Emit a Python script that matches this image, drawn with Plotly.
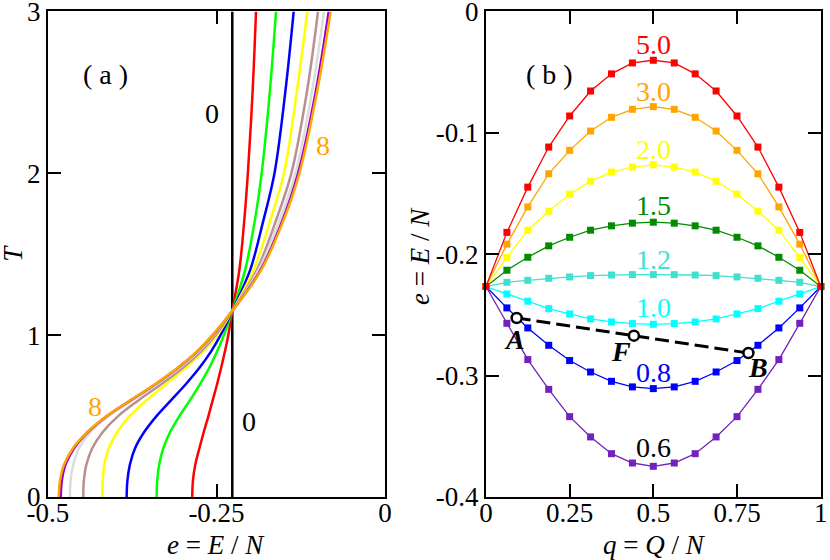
import plotly.graph_objects as go

# ---- panel (a): e = E/N against T for the nine curves ----
temp_a = [0, 0.1, 0.2, 0.3, 0.4, 0.5, 0.6, 0.7, 0.8, 0.9, 1.0, 1.15, 1.4, 1.7, 2.0, 2.5, 3.0]

e_red = [-0.2860, -0.2850, -0.2815, -0.2755, -0.2690, -0.2620, -0.2555, -0.2490, -0.2430,
         -0.2375, -0.2325, -0.2266, -0.2162, -0.2090, -0.2035, -0.1965, -0.1914]
e_green = [-0.3388, -0.3380, -0.3350, -0.3290, -0.3190, -0.3050, -0.2890, -0.2740, -0.2605,
           -0.2490, -0.2390, -0.2266, -0.2077, -0.1935, -0.1830, -0.1710, -0.1617]
e_blue = [-0.3833, -0.3822, -0.3785, -0.3710, -0.3575, -0.3390, -0.3170, -0.2950, -0.2750,
          -0.2580, -0.2440, -0.2266, -0.2003, -0.1810, -0.1640, -0.1480, -0.1355]
e_yellow = [-0.4194, -0.4189, -0.4165, -0.4100, -0.3975, -0.3790, -0.3530, -0.3240, -0.2955,
            -0.2700, -0.2490, -0.2266, -0.1954, -0.1710, -0.1500, -0.1310, -0.1153]
e_brown = [-0.4476, -0.4468, -0.4430, -0.4345, -0.4190, -0.3960, -0.3650, -0.3310, -0.2995,
           -0.2730, -0.2515, -0.2266, -0.1904, -0.1625, -0.1390, -0.1160, -0.0994]
e_grey = [-0.4674, -0.4665, -0.4625, -0.4540, -0.4370, -0.4100, -0.3740, -0.3370, -0.3040,
          -0.2765, -0.2540, -0.2266, -0.1880, -0.1575, -0.1330, -0.1085, -0.0905]
e_violet = [-0.4810, -0.4795, -0.4740, -0.4615, -0.4410, -0.4125, -0.3765, -0.3395, -0.3065,
            -0.2785, -0.2555, -0.2266, -0.1850, -0.1530, -0.1290, -0.1030, -0.0835]
e_orange = [-0.4840, -0.4822, -0.4762, -0.4632, -0.4420, -0.4130, -0.3770, -0.3400, -0.3070,
            -0.2790, -0.2560, -0.2266, -0.1840, -0.1515, -0.1270, -0.1010, -0.0806]
e_zero = -0.2266  # the "0" curve is a vertical line

curves_a = [
    (e_red, "#ff0000"), (e_green, "#00ff00"), (e_blue, "#0000ff"), (e_yellow, "#ffff00"),
    (e_brown, "#bc8f8f"), (e_grey, "#dcdcdc"), (e_violet, "#9400d3"), (e_orange, "#ffa500"),
]

# ---- panel (b): e against q for several temperatures ----
q_b = [0, 0.0625, 0.125, 0.1875, 0.25, 0.3125, 0.375, 0.4375, 0.5,
       0.5625, 0.625, 0.6875, 0.75, 0.8125, 0.875, 0.9375, 1]

e_t06 = [-0.2266, -0.2569, -0.2868, -0.3113, -0.3338, -0.3505, -0.3643, -0.3720, -0.3747,
         -0.3720, -0.3643, -0.3505, -0.3338, -0.3113, -0.2868, -0.2569, -0.2266]
e_t08 = [-0.2266, -0.2442, -0.2607, -0.2750, -0.2876, -0.2970, -0.3047, -0.3093, -0.3107,
         -0.3093, -0.3047, -0.2970, -0.2876, -0.2750, -0.2607, -0.2442, -0.2266]
e_t10 = [-0.2266, -0.2327, -0.2387, -0.2448, -0.2492, -0.2533, -0.2558, -0.2571, -0.2577,
         -0.2571, -0.2558, -0.2533, -0.2492, -0.2448, -0.2387, -0.2327, -0.2266]
e_t12 = [-0.2266, -0.2231, -0.2215, -0.2198, -0.2187, -0.2176, -0.2171, -0.2168, -0.2168,
         -0.2168, -0.2171, -0.2176, -0.2187, -0.2198, -0.2215, -0.2231, -0.2266]
e_t15 = [-0.2266, -0.2132, -0.2025, -0.1931, -0.1860, -0.1802, -0.1766, -0.1744, -0.1736,
         -0.1744, -0.1766, -0.1802, -0.1860, -0.1931, -0.2025, -0.2132, -0.2266]
e_t20 = [-0.2266, -0.2028, -0.1802, -0.1645, -0.1505, -0.1398, -0.1323, -0.1282, -0.1263,
         -0.1282, -0.1323, -0.1398, -0.1505, -0.1645, -0.1802, -0.2028, -0.2266]
e_t30 = [-0.2266, -0.1917, -0.1610, -0.1337, -0.1144, -0.0985, -0.0872, -0.0806, -0.0784,
         -0.0806, -0.0872, -0.0985, -0.1144, -0.1337, -0.1610, -0.1917, -0.2266]
e_t50 = [-0.2266, -0.1820, -0.1447, -0.1117, -0.0861, -0.0655, -0.0514, -0.0424, -0.0402,
         -0.0424, -0.0514, -0.0655, -0.0861, -0.1117, -0.1447, -0.1820, -0.2266]

curves_b = [
    (e_t06, "#7221bc"), (e_t08, "#0000ff"), (e_t10, "#00ffff"), (e_t12, "#40e0d0"),
    (e_t15, "#008b00"), (e_t20, "#ffff00"), (e_t30, "#ffa500"), (e_t50, "#ff0000"),
]

# tie line A - F - B
tie_q = [0.0917, 0.442, 0.784]
tie_e = [-0.2525, -0.2671, -0.2814]
tie_names = ["A", "F", "B"]

FONT = "Times New Roman, Liberation Serif, DejaVu Serif, serif"

fig = go.Figure()

fig.add_trace(go.Scatter(x=[e_zero, e_zero], y=[0, 3], mode="lines",
                         line=dict(color="black", width=2.5), xaxis="x", yaxis="y"))
for e_vals, col in curves_a:
    fig.add_trace(go.Scatter(x=e_vals, y=temp_a, mode="lines",
                             line=dict(color=col, width=2.5, shape="spline", smoothing=1),
                             xaxis="x", yaxis="y"))

for e_vals, col in curves_b:
    fig.add_trace(go.Scatter(x=q_b, y=e_vals, mode="lines+markers", cliponaxis=False,
                             line=dict(color=col, width=1.3),
                             marker=dict(symbol="square", size=7, color=col),
                             xaxis="x2", yaxis="y2"))

fig.add_trace(go.Scatter(x=tie_q, y=tie_e, mode="lines+markers",
                         line=dict(color="black", width=3, dash="14px,6px"),
                         marker=dict(symbol="circle", size=10, color="white",
                                     line=dict(color="black", width=2.5)),
                         xaxis="x2", yaxis="y2"))

axis_common = dict(showline=True, linecolor="black", linewidth=2, mirror="ticks",
                   ticks="inside", ticklen=13, tickwidth=1.5, tickcolor="black",
                   showgrid=False, zeroline=False, automargin=False,
                   ticklabeloverflow="allow",
                   tickfont=dict(family=FONT, size=27, color="black"))

fig.update_layout(
    width=830, height=560,
    margin=dict(l=0, r=0, t=0, b=0),
    paper_bgcolor="white", plot_bgcolor="white",
    showlegend=False,
    font=dict(family=FONT),
    xaxis=dict(domain=[0.0578, 0.4639], range=[-0.5, 0], ticklabelstandoff=-9,
               tickvals=[-0.5, -0.25, 0], ticktext=["-0.5", "-0.25", "0"], **axis_common),
    yaxis=dict(domain=[0.1125, 0.9795], range=[0, 3],
               tickvals=[0, 1, 2, 3], ticktext=["0", "1", "2", "3"], **axis_common),
    xaxis2=dict(domain=[0.5855, 0.9888], range=[0, 1], anchor="y2", ticklabelstandoff=-9,
                tickvals=[0, 0.25, 0.5, 0.75, 1], ticktext=["0", "0.25", "0.5", "0.75", "1"],
                **axis_common),
    yaxis2=dict(domain=[0.1125, 0.9795], range=[-0.4, 0], anchor="x2",
                tickvals=[-0.4, -0.3, -0.2, -0.1, 0],
                ticktext=["-0.4", "-0.3", "-0.2", "-0.1", "0"], **axis_common),
)

notes = []


def note(text, x, y, ref, size=28, color="black", **kw):
    notes.append(dict(text=text, x=x, y=y, xref=ref[0], yref=ref[1], showarrow=False,
                      xanchor="center", yanchor="middle",
                      font=dict(family=FONT, size=size, color=color), **kw))


# panel (a) labels
note("( a )", -0.414, 2.61, ("x", "y"))
note("0", -0.257, 2.37, ("x", "y"))
note("0", -0.2013, 0.465, ("x", "y"))
note("8", -0.0915, 2.175, ("x", "y"), color="#ffa500")
note("8", -0.430, 0.558, ("x", "y"), color="#ffa500")

# panel (b) labels
note("( b )", 0.191, -0.0519, ("x2", "y2"))
temp_labels = ["5.0", "3.0", "2.0", "1.5", "1.2", "1.0", "0.8", "0.6"]
temp_label_e = [-0.0272, -0.066, -0.1138, -0.160, -0.2045, -0.244, -0.2976, -0.3594]
temp_label_col = ["#ff0000", "#ffa500", "#ffff00", "#008b00", "#40e0d0", "#00ffff", "#0000ff", "black"]
for txt, ev, col in zip(temp_labels, temp_label_e, temp_label_col):
    note(txt, 0.5, ev, ("x2", "y2"), color=col)
for name, qx, ev in zip(tie_names, [0.0866, 0.4025, 0.8127], [-0.2704, -0.280, -0.2935]):
    note("<b><i>" + name + "</i></b>", qx, ev, ("x2", "y2"))

# axis titles
note("<i>e</i> = <i>E</i> / <i>N</i>", 0.2602, 0.0268, ("paper", "paper"), size=27)
note("<i>T</i>", 0.0163, 0.548, ("paper", "paper"), size=27, textangle=-90)
note("<i>e</i> = <i>E</i> / <i>N</i>", 0.506, 0.543, ("paper", "paper"), size=27, textangle=-90)
note("<i>q</i> = <i>Q</i> / <i>N</i>", 0.789, 0.0268, ("paper", "paper"), size=27)

fig.update_layout(annotations=notes)

# drop the default 8px body margin so the figure fills the window exactly
fig.write_html("out.html", config={"displayModeBar": False},
               post_script="document.body.style.margin='0';")
